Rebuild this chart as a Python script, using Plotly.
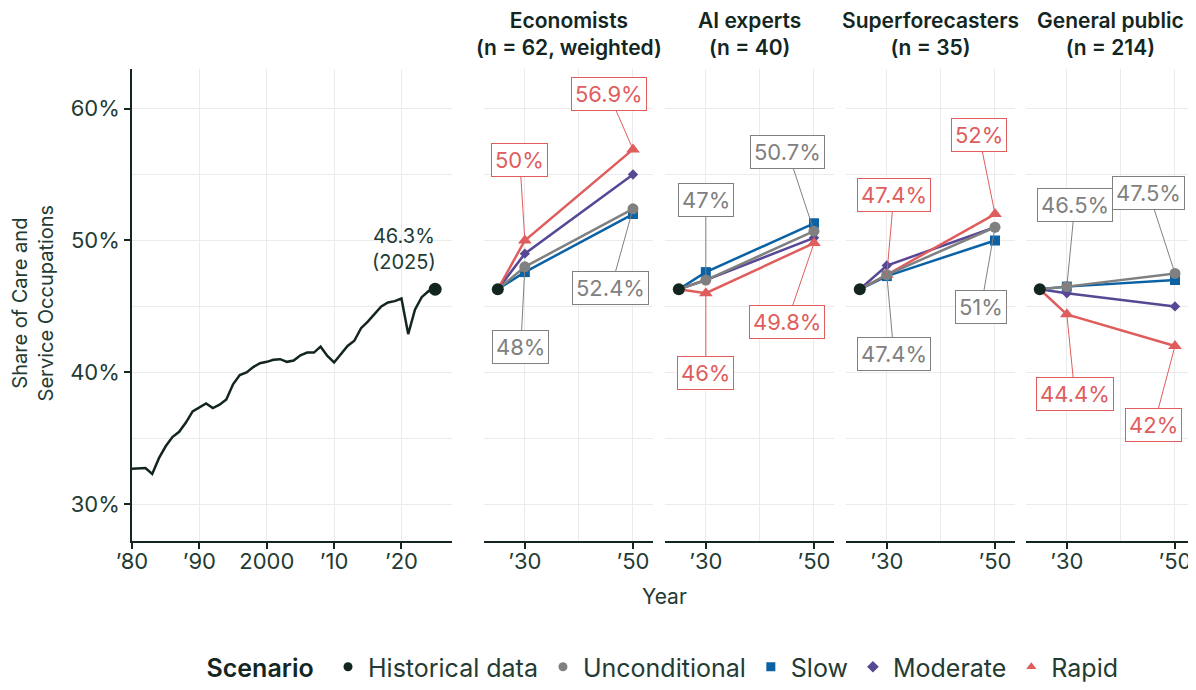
import plotly.graph_objects as go

# ---------------- data ----------------
hist_years = list(range(1980, 2026))
hist_values = [32.7, 32.7, 32.75, 32.3, 33.5, 34.4, 35.1, 35.5, 36.2, 37.05,
               37.35, 37.65, 37.3, 37.55, 37.95, 39.1, 39.8, 40.0, 40.4, 40.7,
               40.8, 40.95, 41.0, 40.8, 40.9, 41.3, 41.5, 41.5, 41.95, 41.25,
               40.75, 41.4, 42.0, 42.4, 43.35, 43.85, 44.45, 45.0, 45.3, 45.4,
               45.6, 42.9, 44.75, 45.7, 46.15, 46.3]

groups = ["Economists", "AI experts", "Superforecasters", "General public"]
group_n = ["n = 62, weighted", "n = 40", "n = 35", "n = 214"]
proj_years = [2025, 2030, 2050]
start_value = 46.3

unconditional_2030 = [48.0, 47.0, 47.4, 46.5]
unconditional_2050 = [52.4, 50.7, 51.0, 47.5]
slow_2030 = [47.6, 47.6, 47.3, 46.5]
slow_2050 = [52.0, 51.3, 50.0, 47.0]
moderate_2030 = [49.0, 47.0, 48.1, 46.0]
moderate_2050 = [55.0, 50.2, 51.0, 45.0]
rapid_2030 = [50.0, 46.0, 47.4, 44.4]
rapid_2050 = [56.9, 49.8, 52.0, 42.0]

hist_ticks = [1980, 1990, 2000, 2010, 2020]
hist_ticklabels = ["’80", "’90", "2000", "’10", "’20"]
proj_ticks = [2030, 2050]
proj_ticklabels = ["’30", "’50"]

# ---------------- style ----------------
FONT = "Inter"
DARK = "#13261f"
TXT = "#233b33"
GRID = "#ebebeb"
COLORS = {"Historical data": "#12261f", "Unconditional": "#808080",
          "Slow": "#0a62a5", "Moderate": "#574896", "Rapid": "#e05d5d"}
SYMBOLS = {"Historical data": "circle", "Unconditional": "circle",
           "Slow": "square", "Moderate": "diamond", "Rapid": "triangle-up"}
MSIZE = {"Unconditional": 11, "Slow": 10, "Moderate": 8, "Rapid": 12}

OFF = 8  # page body margin
W, H = 1196 - OFF, 690 - OFF
def px_x(p):
    return (p - OFF) / W
def px_y(p):
    return 1 - (p - OFF) / H

y_dom = [px_y(546), px_y(70)]
y_rng = [27.2, 62.96]
panel_px = [(132, 452), (484, 653), (665, 834), (846, 1015), (1026, 1195)]

fig = go.Figure()

# historical
fig.add_trace(go.Scatter(x=hist_years, y=hist_values, mode="lines",
                         line=dict(color=COLORS["Historical data"], width=2.5),
                         xaxis="x", yaxis="y", showlegend=False, hoverinfo="skip"))
fig.add_trace(go.Scatter(x=[hist_years[-1]], y=[hist_values[-1]], mode="markers",
                         marker=dict(color=COLORS["Historical data"], size=13,
                                     line=dict(width=0)),
                         xaxis="x", yaxis="y", showlegend=False))

series = {
    "Slow": (slow_2030, slow_2050),
    "Moderate": (moderate_2030, moderate_2050),
    "Rapid": (rapid_2030, rapid_2050),
    "Unconditional": (unconditional_2030, unconditional_2050),
}

for gi in range(len(groups)):
    xa = f"x{gi + 2}"
    ya = f"y{gi + 2}"
    for name, (v30, v50) in series.items():
        fig.add_trace(go.Scatter(
            x=proj_years, y=[start_value, v30[gi], v50[gi]], mode="lines+markers",
            line=dict(color=COLORS[name], width=2.5),
            marker=dict(color=COLORS[name], size=[0, MSIZE[name], MSIZE[name]],
                        symbol=SYMBOLS[name], opacity=1, line=dict(width=0)),
            xaxis=xa, yaxis=ya, showlegend=False))
    fig.add_trace(go.Scatter(x=[proj_years[0]], y=[start_value], mode="markers",
                             marker=dict(color=COLORS["Historical data"], size=12,
                                         line=dict(width=0)),
                             xaxis=xa, yaxis=ya, showlegend=False))

# legend-only traces
for name in ["Historical data", "Unconditional", "Slow", "Moderate", "Rapid"]:
    fig.add_trace(go.Scatter(x=[None], y=[None], mode="markers", name=name,
                             marker=dict(color=COLORS[name], symbol=SYMBOLS[name], size=9,
                                         line=dict(width=0)),
                             xaxis="x", yaxis="y"))

TICKFONT = dict(family=FONT, size=22, color=TXT)
axis_common = dict(showline=True, linecolor=DARK, linewidth=1.5, ticks="outside",
                   ticklen=6, tickcolor=DARK, tickwidth=1.5, tickfont=TICKFONT,
                   gridcolor=GRID, gridwidth=1, zeroline=False, fixedrange=True,
                   automargin=False, ticklabelstandoff=-6)
layout_axes = {}
for i, (l, r) in enumerate(panel_px):
    key = "xaxis" if i == 0 else f"xaxis{i + 1}"
    ykey = "yaxis" if i == 0 else f"yaxis{i + 1}"
    anchor_y = "y" if i == 0 else f"y{i + 1}"
    anchor_x = "x" if i == 0 else f"x{i + 1}"
    if i == 0:
        xa = dict(axis_common, domain=[px_x(l), px_x(r)], range=[1980, 2027.5],
                  tickvals=hist_ticks, ticktext=hist_ticklabels, anchor=anchor_y)
    else:
        xa = dict(axis_common, domain=[px_x(l), px_x(r)], range=[2022.45, 2053.7],
                  tickvals=proj_ticks, ticktext=proj_ticklabels, anchor=anchor_y,
                  minor=dict(tickvals=[2040], showgrid=True, gridcolor=GRID, ticks=""))
    layout_axes[key] = xa
    ya = dict(domain=y_dom, range=y_rng, anchor=anchor_x, tickvals=[30, 40, 50, 60],
              ticktext=["30%", "40%", "50%", "60%"], gridcolor=GRID, gridwidth=1,
              zeroline=False, fixedrange=True, automargin=False,
              minor=dict(tickvals=[35, 45, 55], showgrid=True, gridcolor=GRID, ticks=""))
    if i == 0:
        ya.update(showline=True, linecolor=DARK, linewidth=1.5, ticks="outside",
                  ticklen=6, tickcolor=DARK, tickwidth=1.5, tickfont=TICKFONT)
    else:
        ya.update(showline=False, showticklabels=False, ticks="")
    layout_axes[ykey] = ya

annotations = []
# panel titles
for gi, (l, r) in enumerate(panel_px[1:]):
    annotations.append(dict(
        x=px_x((l + r) / 2), y=px_y(34), xref="paper", yref="paper",
        text=f"{groups[gi]}<br>({group_n[gi]})", showarrow=False,
        font=dict(family=FONT, size=21, color=DARK, weight=600), align="center",
        xanchor="center", yanchor="middle"))

# historical end label
annotations.append(dict(x=hist_years[-1], y=hist_values[-1], xref="x", yref="y",
                        text=f"{hist_values[-1]:g}%<br>({hist_years[-1]})",
                        showarrow=False, xshift=-31, yshift=40,
                        font=dict(family=FONT, size=20, color=TXT), align="center"))

# value labels: (uncond 2030, uncond 2050, rapid 2030, rapid 2050) pixel offsets
offsets = [
    [(-4, 80), (-22, 79), (-5, -80), (-24, -55)],
    [(0, -80), (-26, -79), (0, 80), (-27, 79)],
    [(7, 79), (-14, 80), (7, -80), (-16, -79)],
    [(8, -82), (-26, -80), (8, 80), (-21, 79)],
]
for gi in range(len(groups)):
    items = [("Unconditional", 2030, unconditional_2030[gi]),
             ("Unconditional", 2050, unconditional_2050[gi]),
             ("Rapid", 2030, rapid_2030[gi]),
             ("Rapid", 2050, rapid_2050[gi])]
    for (name, yr, val), (ax, ay) in zip(items, offsets[gi]):
        c = COLORS[name]
        annotations.append(dict(
            x=yr, y=val, xref=f"x{gi + 2}", yref=f"y{gi + 2}",
            text=f"{val:g}%", showarrow=True, arrowhead=0, arrowwidth=1,
            arrowcolor=c, ax=ax, ay=ay, axref="pixel", ayref="pixel",
            bordercolor=c, borderwidth=1, borderpad=3, bgcolor="white",
            font=dict(family=FONT, size=22, color=c), standoff=0))

# y title
annotations.append(dict(x=px_x(33), y=px_y(306), xref="paper", yref="paper",
                        text="Share of Care and<br>Service Occupations", textangle=-90,
                        showarrow=False, font=dict(family=FONT, size=20, color=TXT),
                        align="center", xanchor="center", yanchor="middle"))
# x title
annotations.append(dict(x=px_x(664), y=px_y(602), xref="paper", yref="paper",
                        text="Year", showarrow=False,
                        font=dict(family=FONT, size=21, color=TXT),
                        xanchor="center", yanchor="middle"))

fig.update_layout(
    width=W, height=H, margin=dict(l=0, r=0, t=0, b=0),
    paper_bgcolor="white", plot_bgcolor="white",
    font=dict(family=FONT, color=TXT),
    annotations=annotations,
    legend=dict(orientation="h", x=px_x(664), xanchor="center",
                y=px_y(673), yanchor="middle",
                title=dict(text="Scenario ", font=dict(family=FONT, size=25, color=DARK, weight=600)),
                font=dict(family=FONT, size=25, color=TXT), itemwidth=30,
                bgcolor="rgba(0,0,0,0)"),
    **layout_axes,
)

fig.write_html("out.html")
